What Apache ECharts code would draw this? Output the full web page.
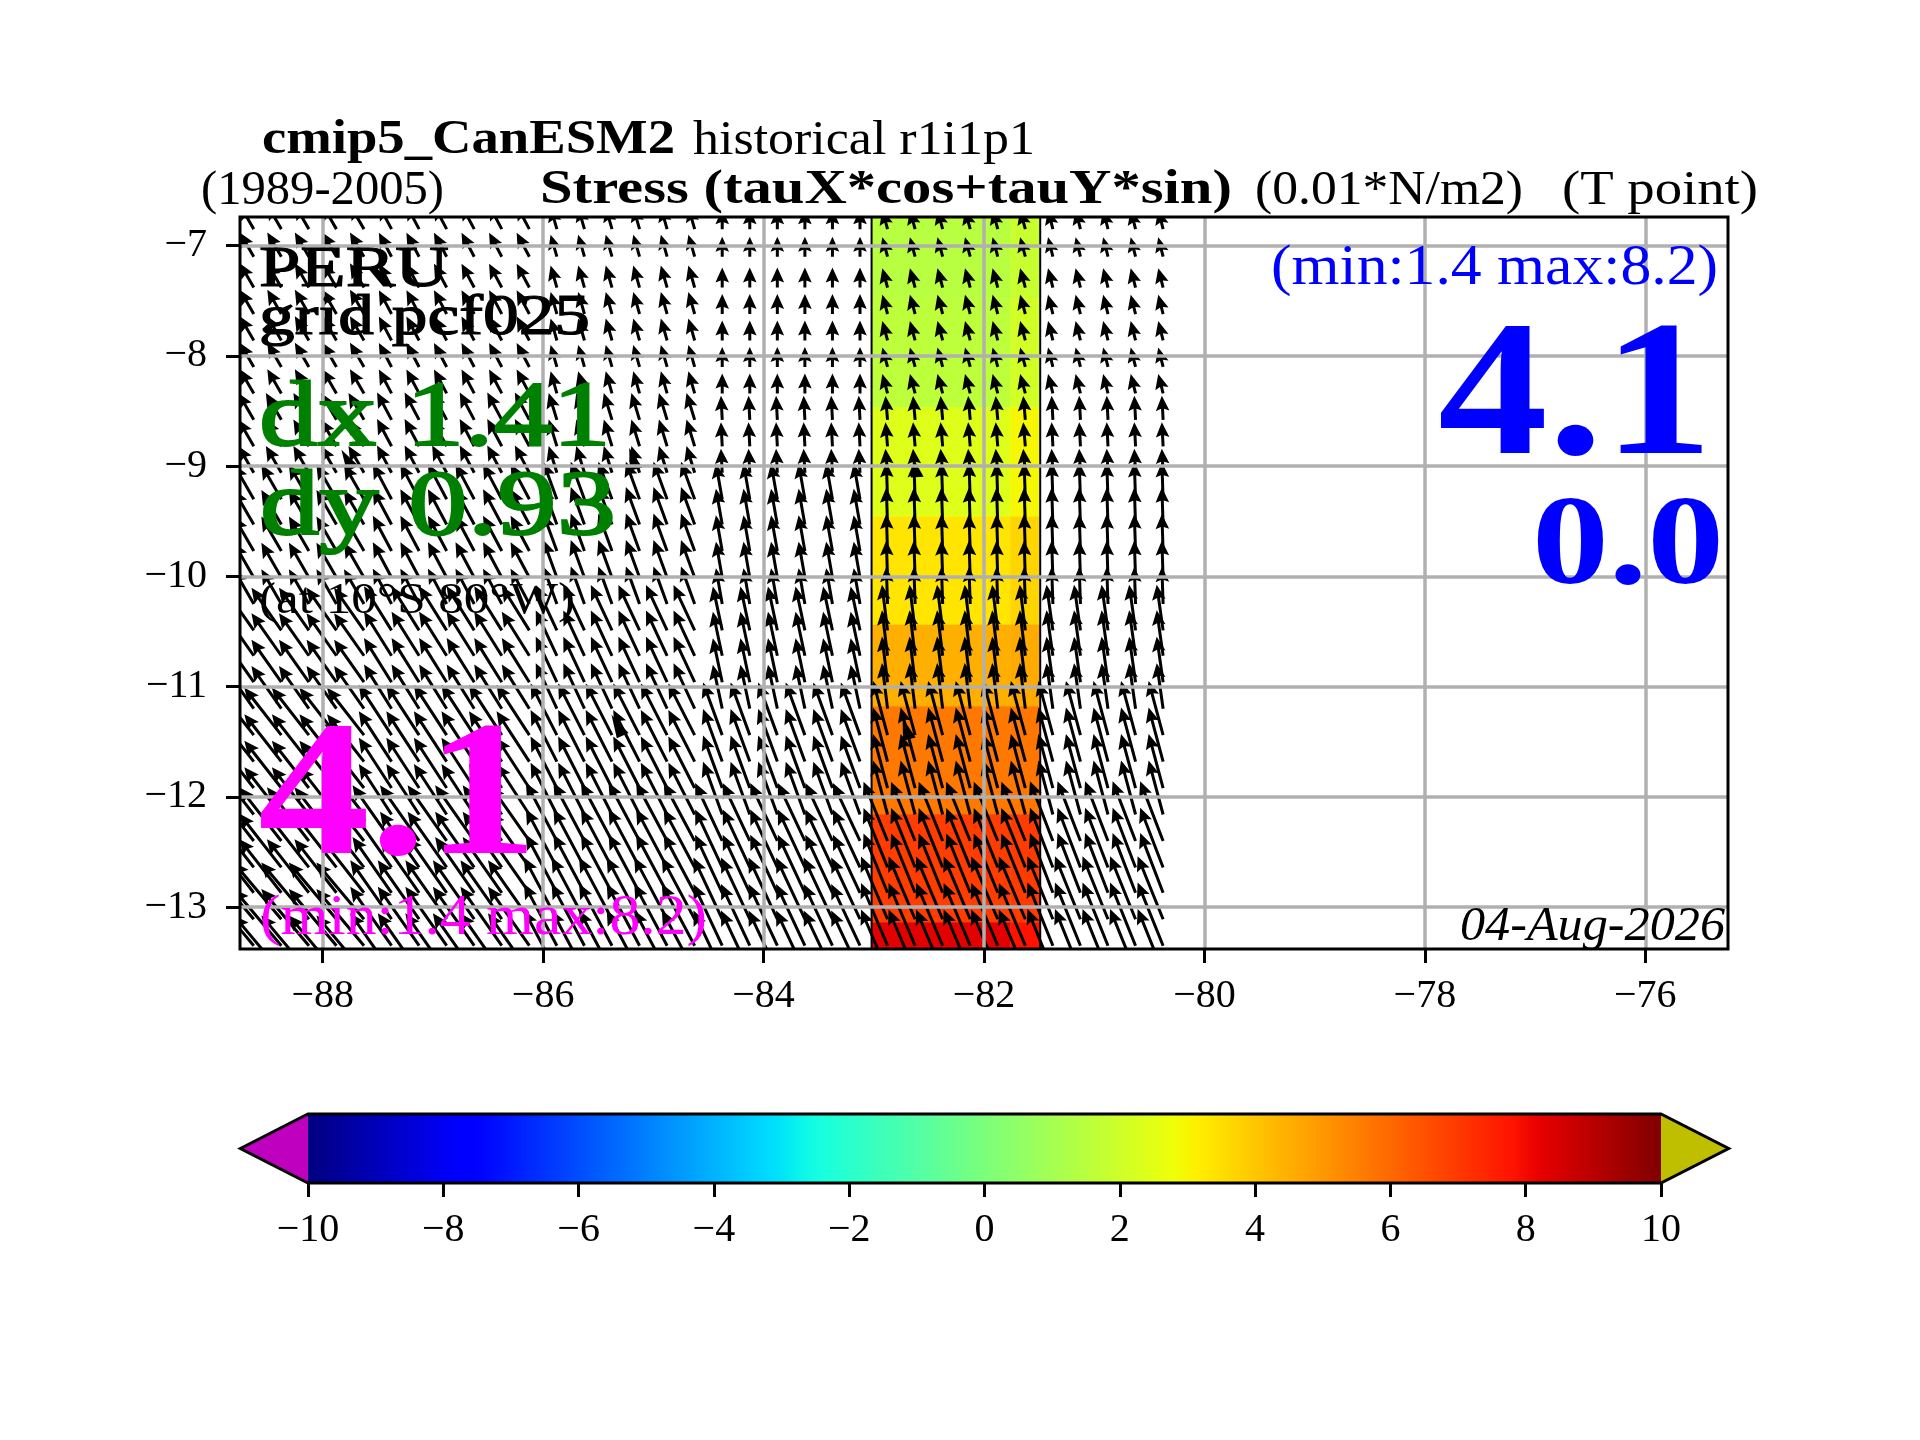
<!DOCTYPE html>
<html><head><meta charset="utf-8">
<script src="https://cdn.jsdelivr.net/npm/echarts@6/dist/echarts.min.js"></script>
<style>html,body{margin:0;padding:0;background:#fff}#c{width:1920px;height:1440px}</style>
</head><body><div id="c"></div>
<script>
// ---- axis ticks
const lonTicks = [-88,-86,-84,-82,-80,-78,-76];
const latTicks = [-13,-12,-11,-10,-9,-8,-7];
// ---- shaded stress column (0.01 N/m2)
const heatLonEdges = [-83.02,-81.76,-81.49];
const heatLatEdges = [-6.74,-7.48,-8.47,-9.46,-10.44,-11.18,-12.16,-13.14,-13.38];
const heatWest = [1.45,1.6,2.4,3.35,4.5,5.65,6.9,8.3];
const heatEast = [1.85,2.1,2.95,3.7,4.6,5.7,6.95,7.8];
// ---- arrow tails
const arrowLons = [-88.625,-88.375,-88.125,-87.875,-87.625,-87.375,-87.125,-86.875,-86.625,-86.375,-86.125,-85.875,-85.625,-85.375,-85.125,-84.875,-84.625,-84.375,-84.125,-83.875,-83.625,-83.375,-83.125,-82.875,-82.625,-82.375,-82.125,-81.875,-81.625,-81.375,-81.125,-80.875,-80.625,-80.375];
const arrowLats = [-6.85,-7.10,-7.38,-7.62,-7.86,-8.10,-8.34,-8.58,-8.82,-9.06,-9.30,-9.53,-9.77,-10.01,-10.25,-10.49,-10.72,-10.96,-11.20,-11.44,-11.68,-11.92,-12.16,-12.40,-12.64,-12.87,-13.11,-13.35,-13.59];
// ---- arrow field, one row per latitude band, one value per longitude block
const lonBlockEdges = [-87.5,-85.95,-84.5,-83.0,-81.5];
const latBandEdges = [-8.45,-9.25,-10.35,-11.3,-12.28,-13.0];
const tauU = [
 [-1.56,-1.41,-0.70, 0.00,-0.58,-0.54],
 [-1.72,-1.61,-0.91,-0.14,-0.23,-0.14],
 [-2.22,-2.08,-1.52,-0.70,-0.14,-0.14],
 [-3.32,-3.06,-2.35,-1.04,-0.62,-0.71],
 [-4.11,-3.64,-2.92,-2.13,-1.61,-1.61],
 [-4.66,-4.34,-3.44,-3.01,-2.67,-2.55],
 [-5.29,-4.59,-3.65,-3.20,-2.95,-2.83]];
const tauV = [
 [2.69,2.65,2.45,2.22,2.15,2.15],
 [2.98,3.04,2.97,2.67,2.66,2.67],
 [3.85,3.92,4.17,3.97,4.11,4.11],
 [4.73,4.90,5.04,4.89,5.07,5.06],
 [5.26,5.60,5.74,5.85,6.01,6.01],
 [5.96,6.19,6.47,6.44,6.59,6.64],
 [6.30,6.55,6.87,6.85,6.96,7.01]];
// a few short, heavy arrows: lon, lat, u, v
const heavyArrows = [[-87.74,-9.03,-1.1,2.2],[-85.17,-9.03,-0.6,2.4],[-85.29,-11.45,-1.1,2.4],[-87.84,-11.5,-1.8,2.0],[-82.62,-9.1,-0.1,1.8],[-82.69,-11.48,-0.6,2.4]];
// ---- colour bar extensions
const cbarUnder = -11.0, cbarOver = 11.0;
const cbarUnderColor = '#bf00bf', cbarOverColor = '#bfbf00';

// matplotlib "jet"
const jetR=[[0,0],[.35,0],[.66,1],[.89,1],[1,.5]],jetG=[[0,0],[.125,0],[.375,1],[.64,1],[.91,0],[1,0]],jetB=[[0,.5],[.11,1],[.34,1],[.65,0],[1,0]];
function seg(s,t){for(let i=1;i<s.length;i++){if(t<=s[i][0]){const a=s[i-1],b=s[i];return a[1]+(b[1]-a[1])*(t-a[0])/(b[0]-a[0]);}}return s[s.length-1][1];}
function jet(v){const t=Math.max(0,Math.min(1,(v+10)/20));return 'rgb('+[jetR,jetG,jetB].map(s=>Math.round(255*seg(s,t))).join(',')+')';}

const heatData=[];
heatWest.forEach((v,i)=>{heatData.push([heatLonEdges[0],heatLonEdges[1],heatLatEdges[i],heatLatEdges[i+1],v]);
  heatData.push([heatLonEdges[1],heatLonEdges[2],heatLatEdges[i],heatLatEdges[i+1],heatEast[i]]);});
const arrowData=[];
arrowLats.forEach(la=>{let r=latBandEdges.findIndex(e=>la>e);if(r<0)r=latBandEdges.length;
  arrowLons.forEach(lo=>{let c=lonBlockEdges.findIndex(e=>lo<e);if(c<0)c=lonBlockEdges.length;
    arrowData.push([lo,la,tauU[r][c],tauV[r][c]]);});});

const PX_PER_UNIT=9, SHAFT=3, HEAD_L=15, HEAD_AXIS=13, HEAD_W=6.8;
function arrowItem(params,api){
  const p=api.coord([api.value(0),api.value(1)]);
  const dx=api.value(2)*PX_PER_UNIT, dy=-api.value(3)*PX_PER_UNIT;
  const L=Math.hypot(dx,dy);const ux=dx/L,uy=dy/L,nx=-uy,ny=ux;
  const k=Math.min(1,L/16);
  const hl=HEAD_L*k,ha=HEAD_AXIS*k,hw=HEAD_W*k,s=SHAFT/2;
  const pt=(a,b)=>[p[0]+ux*a+nx*b,p[1]+uy*a+ny*b];
  return {type:'polygon',shape:{points:[pt(0,-s),pt(L-ha,-s),pt(L-hl,-hw),pt(L,0),pt(L-hl,hw),pt(L-ha,s),pt(0,s)]},style:{fill:'#000'}};
}
function heavyItem(params,api){
  const p=api.coord([api.value(0),api.value(1)]);
  const dx=api.value(2)*PX_PER_UNIT, dy=-api.value(3)*PX_PER_UNIT;
  const L=Math.hypot(dx,dy);const ux=dx/L,uy=dy/L,nx=-uy,ny=ux;
  const pt=(a,b)=>[p[0]+ux*a+nx*b,p[1]+uy*a+ny*b];
  return {type:'polygon',shape:{points:[pt(0,-5),pt(L,0),pt(0,8)]},style:{fill:'#000'}};
}

// ---- page text: string, left, baseline, width, size, weight, style, colour, outline
const FONT='"Liberation Serif"';
const texts=[
 ['cmip5_CanESM2',262,153,413,48,'bold','normal','#000',0],
 ['historical r1i1p1',693,153,342,48,'normal','normal','#000',0],
 ['(1989-2005)',201,203,243,48,'normal','normal','#000',0],
 ['Stress (tauX*cos+tauY*sin)',540,203,692,48,'bold','normal','#000',0],
 ['(0.01*N/m2)',1255,203,268,48,'normal','normal','#000',0],
 ['(T point)',1562,203,196,48,'normal','normal','#000',0],
 ['PERU',259,285,190,58,'normal','normal','#000',1.2],
 ['grid pcf025',259,333,331,56,'normal','normal','#000',1.2],
 ['dx 1.41',259,445,352,94,'normal','normal','#008000',2],
 ['dy 0.93',260,534,356,94,'normal','normal','#008000',2],
 ['(at 10°S 80°W)',259,612,316,44,'normal','normal','#000',0],
 ['4.1',258,854,280,192,'bold','normal','#ff00ff',0],
 ['(min:1.4 max:8.2)',260,933,447,56,'normal','normal','#ff00ff',0],
 ['(min:1.4 max:8.2)',1271,283,447,56,'normal','normal','#0000ff',0],
 ['4.1',1438,454,275,192,'bold','normal','#0000ff',0],
 ['0.0',1532,583,192,128,'bold','normal','#0000ff',0],
 ['04-Aug-2026',1460,939,265,48,'normal','italic','#000',0]
];
const mctx=document.createElement('canvas').getContext('2d');
const textEls=texts.map(([s,x,b,w,size,wt,st,col,ol])=>{
  const font=st+' '+wt+' '+size+'px '+FONT;mctx.font=font;
  const mw=mctx.measureText(s).width;
  const style={text:s,font:font,fill:col,align:'left',verticalAlign:'middle'};
  if(ol){style.stroke=col;style.lineWidth=ol;}
  return {type:'text',x:x,y:b-0.27*size+1,scaleX:w/mw,z:50,silent:true,style};
});

const minus=v=>String(v).replace('-','\u2212');
const labelStyle={fontFamily:FONT,fontSize:40,color:'#000',formatter:minus};
const frame={left:240,top:217,width:1488,height:732};
const tickLine={color:'#000',width:3};
const option={
 animation:false,backgroundColor:'#fff',
 grid:[{...frame,show:true,z:6,borderColor:'#000',borderWidth:3,backgroundColor:'transparent'},
       {left:308,top:1114,width:1353,height:69,show:false}],
 xAxis:[{type:'value',gridIndex:0,min:-88.75,max:-75.25,z:5,position:'bottom',
   axisLine:{show:false},axisTick:{show:true,length:14,lineStyle:tickLine,customValues:lonTicks},
   axisLabel:{...labelStyle,margin:27,customValues:lonTicks},
   splitLine:{show:true,lineStyle:{color:'#b0b0b0',width:3.5}}},
  {type:'value',gridIndex:1,min:-10,max:10,interval:2,position:'bottom',
   axisLine:{show:false},axisTick:{show:true,length:14,lineStyle:tickLine},
   axisLabel:{...labelStyle,margin:27},splitLine:{show:false}}],
 yAxis:[{type:'value',gridIndex:0,min:-13.38,max:-6.74,z:5,
   axisLine:{show:false},axisTick:{show:true,length:14,lineStyle:tickLine,customValues:latTicks},
   axisLabel:{...labelStyle,margin:33,customValues:latTicks},
   splitLine:{show:true,lineStyle:{color:'#b0b0b0',width:3.5}}},
  {type:'value',gridIndex:1,min:0,max:1,show:false}],
 graphic:{elements:textEls},
 series:[
  {type:'custom',name:'stress',xAxisIndex:0,yAxisIndex:0,z:1,clip:true,silent:true,data:heatData,
   encode:{x:[0,1],y:[2,3]},
   renderItem(params,api){
     const a=api.coord([api.value(0),api.value(2)]),b=api.coord([api.value(1),api.value(3)]);
     return {type:'rect',shape:{x:a[0],y:a[1],width:b[0]-a[0],height:b[1]-a[1]},style:{fill:jet(api.value(4)),stroke:jet(api.value(4)),lineWidth:0.5}};
   }},
  {type:'custom',name:'stress edges',xAxisIndex:0,yAxisIndex:0,z:2,clip:true,silent:true,
   data:[[heatLonEdges[0],heatLatEdges[0],heatLatEdges[8]],[heatLonEdges[2],heatLatEdges[0],heatLatEdges[8]]],
   encode:{x:0,y:[1,2]},
   renderItem(params,api){
     const a=api.coord([api.value(0),api.value(1)]),b=api.coord([api.value(0),api.value(2)]);
     return {type:'line',shape:{x1:a[0],y1:a[1],x2:b[0],y2:b[1]},style:{stroke:'#000',lineWidth:2}};
   }},
  {type:'custom',name:'wind stress',xAxisIndex:0,yAxisIndex:0,z:3,clip:true,silent:true,data:arrowData,
   encode:{x:0,y:1},renderItem:arrowItem},
  {type:'custom',name:'wind stress heavy',xAxisIndex:0,yAxisIndex:0,z:3,clip:true,silent:true,data:heavyArrows,
   encode:{x:0,y:1},renderItem:heavyItem},
  {type:'custom',name:'colour bar',xAxisIndex:1,yAxisIndex:1,z:3,silent:true,data:[[-10,10,0,1]],
   encode:{x:[0,1],y:[2,3]},
   renderItem(params,api){
     const a=api.coord([api.value(0),api.value(2)]),b=api.coord([api.value(1),api.value(3)]);
     const stops=[];for(let i=0;i<=100;i++){stops.push({offset:i/100,color:jet(-10+i/5)});}
     return {type:'rect',shape:{x:a[0],y:b[1],width:b[0]-a[0],height:a[1]-b[1]},
       style:{fill:new echarts.graphic.LinearGradient(0,0,1,0,stops)}};
   }},
  {type:'custom',name:'colour bar ends',xAxisIndex:1,yAxisIndex:1,z:3,silent:true,
   data:[[-10,cbarUnder],[10,cbarOver]],
   encode:{x:[0,1]},
   renderItem(params,api){
     const x0=api.value(0),x1=api.value(1);
     const p=[api.coord([x0,0]),api.coord([x1,0.5]),api.coord([x0,1])];
     return {type:'polygon',shape:{points:p},style:{fill:params.dataIndex===0?cbarUnderColor:cbarOverColor}};
   }},
  {type:'custom',name:'colour bar outline',xAxisIndex:1,yAxisIndex:1,z:4,silent:true,
   data:[[-10,10,cbarUnder,cbarOver]],encode:{x:[0,1]},
   renderItem(params,api){
     const l=api.value(0),r=api.value(1),u=api.value(2),o=api.value(3);
     const p=[[u,.5],[l,1],[r,1],[o,.5],[r,0],[l,0]].map(q=>api.coord(q));
     return {type:'polygon',shape:{points:p},style:{fill:'none',stroke:'#000',lineWidth:3,lineJoin:'miter'}};
   }}
 ]
};
const chart=echarts.init(document.getElementById('c'),null,{renderer:'canvas',width:1920,height:1440});
chart.setOption(option);
</script></body></html>
